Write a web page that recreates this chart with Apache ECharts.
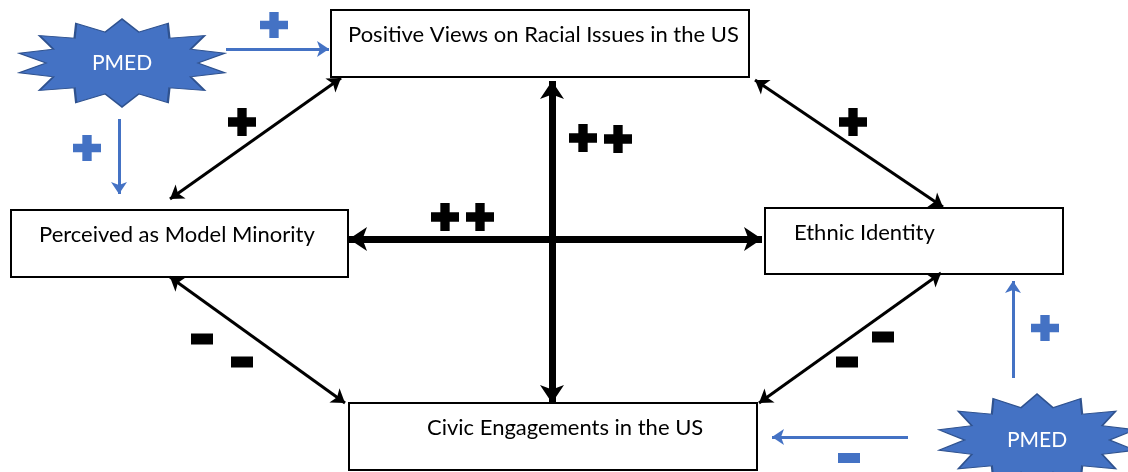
<!DOCTYPE html>
<html>
<head>
<meta charset="utf-8">
<script src="https://cdn.jsdelivr.net/npm/echarts@6/dist/echarts.min.js"></script>
<style>
html,body{margin:0;padding:0;background:#fff;}
#main{width:1128px;height:472px;}
</style>
</head>
<body>
<div id="main"></div>
<script>
// ---- content (text) ----
const boxNames = [
  'Positive Views on Racial Issues in the US',
  'Perceived as Model Minority',
  'Ethnic Identity',
  'Civic Engagements in the US'
];
const moderatorName = 'PMED';
// sign carried by each relation
const blackLinkSigns = ['+', '+', '- -', '- -'];   // diagonals
const crossLinkSigns = ['++', '++'];               // vertical, horizontal
const blueLinkSigns = ['+', '+', '+', '-'];        // PMED effects

// ---- layout (pixel positions in the drawing) ----
const boxX = [331, 11, 765, 349];
const boxY = [10, 210, 208, 403];
const boxW = [418, 337, 298, 408];
const boxH = [67, 67, 66, 67];
const textDx = [17, 28, 29, 78];
const textDy = [25, 25, 25, 25];

const diagLines = [
  [[170, 199], [341, 78]],
  [[755, 80], [943, 207]],
  [[170, 277], [345, 403]],
  [[941, 273], [759, 403]]
];
const crossLines = [
  [[552, 403], [552, 81]],
  [[349, 239], [762, 239]]
];
const blueLines = [
  [[226, 49], [329, 49]],
  [[119, 119], [119, 194]],
  [[1013, 378], [1013, 281]],
  [[908, 437], [772, 437]]
];
const starPos = [[122, 63], [1037, 440]];
const starSize = [[206, 88], [196, 92]];

const blackPlusPos = [[242, 122], [853, 122], [583, 138], [618, 139], [445, 217], [480, 217]];
const blackMinusPos = [[202, 339], [242, 362], [883, 337], [847, 362]];
const bluePlusPos = [[274, 25], [87, 148], [1045, 328]];
const blueMinusPos = [[849, 458]];

// ---- shapes / styles ----
const BLUE = '#4472C4';
const PLUS = 'path://M10 0H20V10H30V20H20V30H10V20H0V10H10Z';
function starPath(n, inner) {
  let d = '';
  for (let i = 0; i < 2 * n; i++) {
    const a = Math.PI * i / n - Math.PI / 2;
    const r = i % 2 === 0 ? 1 : inner;
    const x = 100 + 100 * r * Math.cos(a);
    const y = 50 + 50 * r * Math.sin(a);
    d += (i === 0 ? 'M' : 'L') + x.toFixed(1) + ' ' + y.toFixed(1);
  }
  return 'path://' + d + 'Z';
}
const STAR = starPath(14, 0.72);
const FONT = 'Lato';

const chart = echarts.init(document.getElementById('main'));
const option = {
  backgroundColor: '#fff',
  animation: false,
  grid: { left: 0, right: 0, top: 0, bottom: 0 },
  xAxis: { type: 'value', min: 0, max: 1128, show: false },
  yAxis: { type: 'value', min: 0, max: 472, inverse: true, show: false },
  series: [
    {
      type: 'custom',
      name: 'boxes',
      z: 2,
      data: boxNames.map((n, i) => [boxX[i], boxY[i], boxW[i], boxH[i], textDx[i], textDy[i], n]),
      renderItem: function (params, api) {
        const x = api.value(0), y = api.value(1), w = api.value(2), h = api.value(3);
        const p1 = api.coord([x, y]);
        const p2 = api.coord([x + w, y + h]);
        return {
          type: 'group',
          children: [
            {
              type: 'rect',
              shape: { x: p1[0], y: p1[1], width: p2[0] - p1[0], height: p2[1] - p1[1] },
              style: { fill: '#fff', stroke: '#000', lineWidth: 2 }
            },
            {
              type: 'text',
              style: {
                x: p1[0] + api.value(4),
                y: p1[1] + api.value(5),
                text: boxNames[params.dataIndex],
                fill: '#000',
                font: '22px ' + FONT,
                verticalAlign: 'middle',
                align: 'left'
              }
            }
          ]
        };
      }
    },
    {
      type: 'lines',
      coordinateSystem: 'cartesian2d',
      z: 3,
      symbol: ['arrow', 'arrow'],
      symbolSize: 13,
      lineStyle: { color: '#000', width: 3, opacity: 1 },
      data: diagLines.map((c, i) => ({ name: blackLinkSigns[i], coords: c }))
    },
    {
      type: 'lines',
      coordinateSystem: 'cartesian2d',
      z: 3,
      symbol: ['arrow', 'arrow'],
      symbolSize: 18,
      lineStyle: { color: '#000', width: 7, opacity: 1 },
      data: crossLines.map((c, i) => ({ name: crossLinkSigns[i], coords: c }))
    },
    {
      type: 'lines',
      coordinateSystem: 'cartesian2d',
      z: 3,
      symbol: ['none', 'arrow'],
      symbolSize: 12,
      lineStyle: { color: BLUE, width: 3, opacity: 1 },
      data: blueLines.map((c, i) => ({ name: blueLinkSigns[i], coords: c }))
    },
    {
      type: 'scatter',
      z: 4,
      symbol: STAR,
      data: starPos.map((p, i) => ({ value: p, symbolSize: starSize[i] })),
      itemStyle: { color: BLUE, borderColor: '#2F528F', borderWidth: 1.5, opacity: 1 },
      label: {
        show: true, position: 'inside', formatter: moderatorName,
        color: '#fff', fontSize: 21, fontFamily: FONT
      }
    },
    {
      type: 'scatter', z: 4, symbol: PLUS, symbolSize: 28,
      itemStyle: { color: '#000', opacity: 1 },
      data: blackPlusPos
    },
    {
      type: 'scatter', z: 4, symbol: 'rect', symbolSize: [22, 11],
      itemStyle: { color: '#000', opacity: 1 },
      data: blackMinusPos
    },
    {
      type: 'scatter', z: 4, symbol: PLUS, symbolSize: [28, 26],
      itemStyle: { color: BLUE, opacity: 1 },
      data: bluePlusPos
    },
    {
      type: 'scatter', z: 4, symbol: 'rect', symbolSize: [22, 10],
      itemStyle: { color: BLUE, opacity: 1 },
      data: blueMinusPos
    }
  ]
};
chart.setOption(option);
</script>
</body>
</html>
